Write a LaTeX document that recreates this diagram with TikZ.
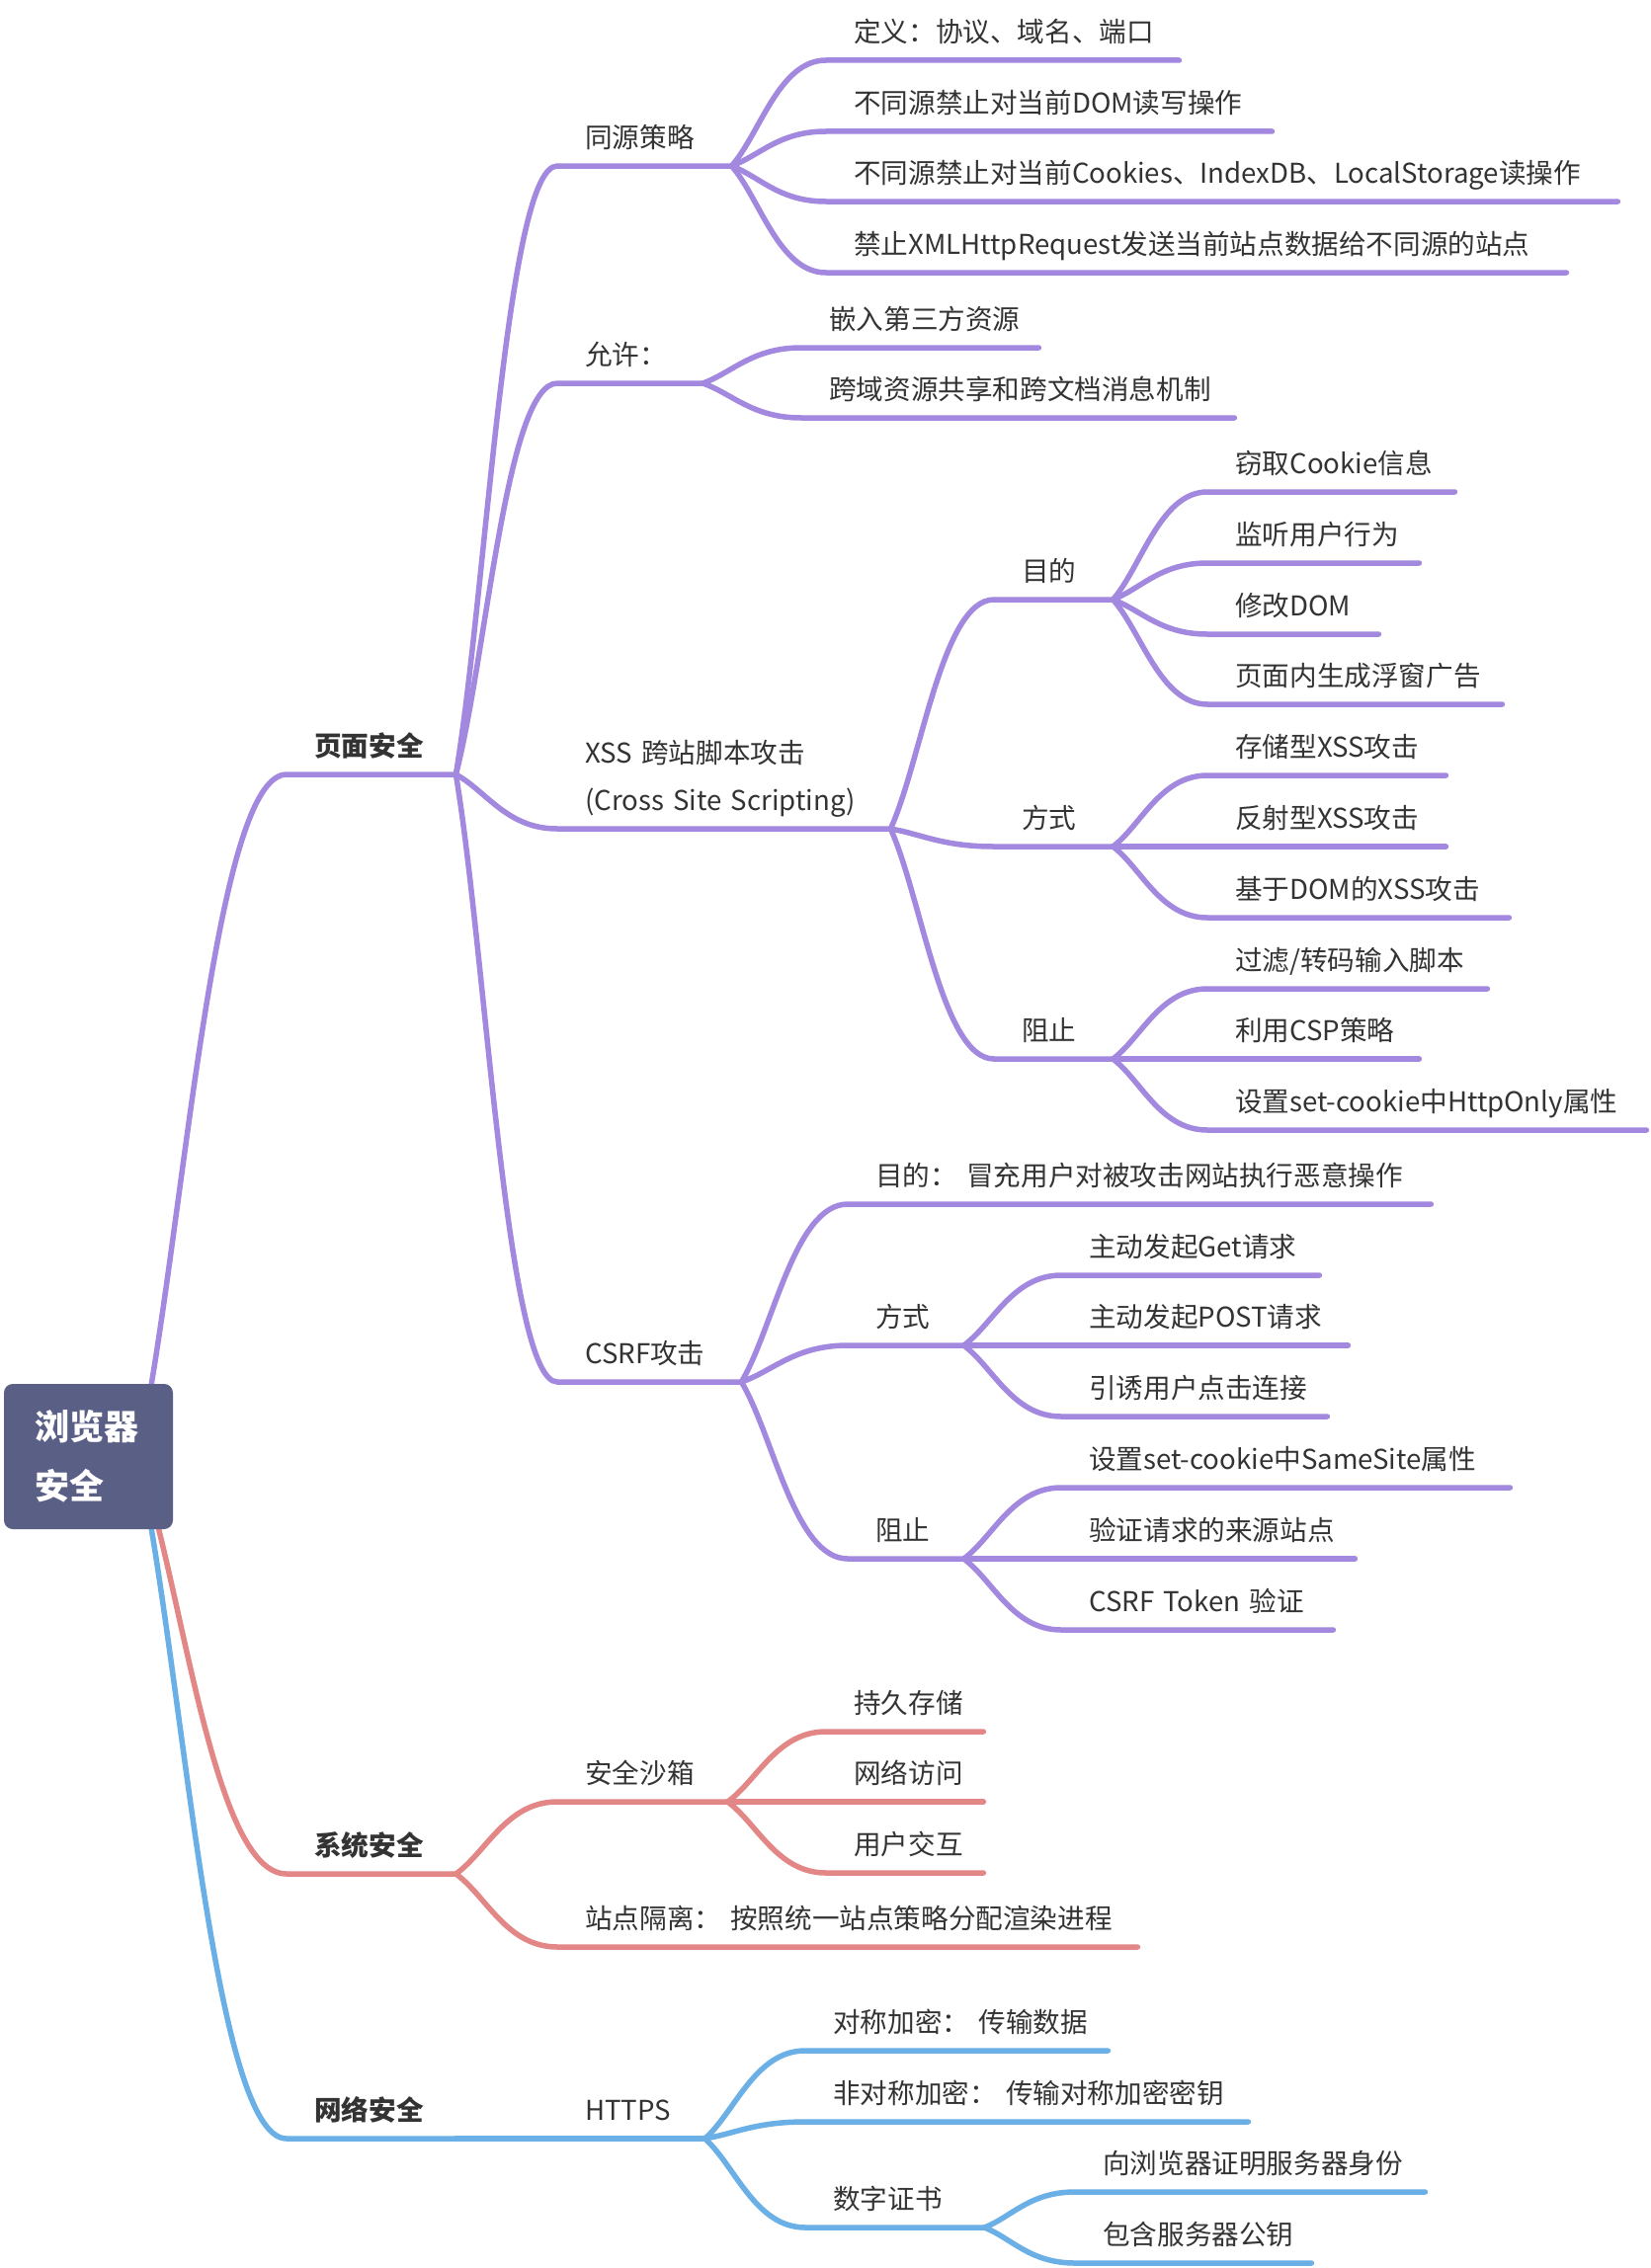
\documentclass[tikz,border=0pt]{standalone}
\usepackage{fontspec}
\setmainfont{Noto Sans CJK SC}
\usetikzlibrary{calc,backgrounds}

\definecolor{lilac}{HTML}{A288DE}
\definecolor{rose}{HTML}{E28686}
\definecolor{sky}{HTML}{6AAFE6}
\definecolor{slate}{HTML}{5A5F86}
\definecolor{ink}{HTML}{333333}

\tikzset{
  topic/.style={anchor=south west, inner xsep=0pt, inner ysep=10pt,
    text height=22pt, text depth=8pt, text width=#1, align=left, text=ink,
    execute at begin node={\hspace*{28pt}}},
  maintopic/.style={topic=#1, font=\fontsize{27.6pt}{33pt}\selectfont\bfseries},
  rootbox/.style={fill=slate, rounded corners=9pt, minimum width=171pt,
    minimum height=147pt, text width=108pt, inner sep=0pt, align=left,
    text=white, font=\fontsize{35pt}{60pt}\selectfont\bfseries},
  branch/.style={to path={let \p1=(\tikztostart), \p2=(\tikztotarget) in
    .. controls ({\x1+0.3*(\x2-\x1)},{\y1+0.3*(\y2-\y1)}) and ({\x2-0.5*(\x2-\x1)},\y2) .. (\tikztotarget)}},
  lilacline/.style={draw=lilac, line width=5.5pt, line cap=round},
  roseline/.style={draw=rose, line width=5.5pt, line cap=round},
  skyline/.style={draw=sky, line width=5.5pt, line cap=round}
}

\begin{document}
\begin{tikzpicture}[x=1pt, y=-1pt, font=\fontsize{27.6pt}{33pt}\selectfont]
  \useasboundingbox (0,0) rectangle (1670,2296);

  % Root
  \node[rootbox] (root) at (89.5,1474.5) {浏览器\\安全};

  % Main topics
  \node[maintopic=171] (page) at (290,784) {页面安全};
  \node[maintopic=171] (sys) at (290,1897) {系统安全};
  \node[maintopic=171] (net) at (290,2165) {网络安全};

  % Page security
  \node[topic=176] (same) at (564,168) {同源策略};
  \node[topic=147] (allow) at (564,388) {允许：};
  \node[topic=337] (xss) at (564,839) {\begin{tabular}[b]{@{}l@{}}XSS~跨站脚本攻击\\[15pt](Cross~Site~Scripting)\end{tabular}};
  \node[topic=186] (csrf) at (564,1399) {CSRF攻击};

  % Same origin policy
  \node[topic=357] (origin) at (836,61) {定义：协议、域名、端口};
  \node[topic=451] (domrw) at (836,133) {不同源禁止对当前DOM读写操作};
  \node[topic=801] (store) at (836,204) {不同源禁止对当前Cookies、IndexDB、LocalStorage读操作};
  \node[topic=749] (xhr) at (836,276) {禁止XMLHttpRequest发送当前站点数据给不同源的站点};

  % Allowed
  \node[topic=240] (embed) at (811,352) {嵌入第三方资源};
  \node[topic=438] (cors) at (811,423) {跨域资源共享和跨文档消息机制};

  % XSS
  \node[topic=120] (xaim) at (1006,607) {目的};
  \node[topic=120] (xway) at (1006,857) {方式};
  \node[topic=120] (xstop) at (1006,1072) {阻止};
  \node[topic=250] (steal) at (1222,498) {窃取Cookie信息};
  \node[topic=214] (listen) at (1222,570) {监听用户行为};
  \node[topic=173] (moddom) at (1222,642) {修改DOM};
  \node[topic=298] (popup) at (1222,713) {页面内生成浮窗广告};
  \node[topic=241] (stored) at (1222,785) {存储型XSS攻击};
  \node[topic=241] (reflect) at (1222,857) {反射型XSS攻击};
  \node[topic=305] (domxss) at (1222,929) {基于DOM的XSS攻击};
  \node[topic=283] (filter) at (1222,1001) {过滤/转码输入脚本};
  \node[topic=214] (csp) at (1222,1072) {利用CSP策略};
  \node[topic=444] (httponly) at (1222,1144) {设置set-cookie中HttpOnly属性};

  % CSRF
  \node[topic=590] (caim) at (858,1219) {目的：~冒充用户对被攻击网站执行恶意操作};
  \node[topic=117] (cway) at (858,1362) {方式};
  \node[topic=117] (cstop) at (858,1578) {阻止};
  \node[topic=261] (get) at (1074,1291) {主动发起Get请求};
  \node[topic=290] (post) at (1074,1362) {主动发起POST请求};
  \node[topic=269] (lure) at (1074,1434) {引诱用户点击连接};
  \node[topic=454] (samesite) at (1074,1506) {设置set-cookie中SameSite属性};
  \node[topic=297] (source) at (1074,1578) {验证请求的来源站点};
  \node[topic=275] (token) at (1074,1650) {CSRF~Token~验证};

  % System security
  \node[topic=172] (sandbox) at (564,1824) {安全沙箱};
  \node[topic=587] (isolate) at (564,1971) {站点隔离：~按照统一站点策略分配渲染进程};
  \node[topic=159] (disk) at (836,1753) {持久存储};
  \node[topic=159] (netacc) at (836,1824) {网络访问};
  \node[topic=159] (input) at (836,1896) {用户交互};

  % Network security
  \node[topic=149] (https) at (564,2165) {HTTPS};
  \node[topic=306] (sym) at (815,2076) {对称加密：~传输数据};
  \node[topic=448] (asym) at (815,2148) {非对称加密：~传输对称加密密钥};
  \node[topic=181] (cert) at (815,2255) {数字证书};
  \node[topic=354] (prove) at (1088,2219) {向浏览器证明服务器身份};
  \node[topic=239] (pubkey) at (1088,2291) {包含服务器公钥};

  % Page security branches
  \draw[lilacline] (page.south east) to[branch] (same.south west) -- (same.south east);
  \draw[lilacline] (page.south east) to[branch] (allow.south west) -- (allow.south east);
  \draw[lilacline] (page.south east) to[branch] (xss.south west) -- (xss.south east);
  \draw[lilacline] (page.south east) to[branch] (csrf.south west) -- (csrf.south east);
  \draw[lilacline] (same.south east) to[branch] (origin.south west) -- (origin.south east);
  \draw[lilacline] (same.south east) to[branch] (domrw.south west) -- (domrw.south east);
  \draw[lilacline] (same.south east) to[branch] (store.south west) -- (store.south east);
  \draw[lilacline] (same.south east) to[branch] (xhr.south west) -- (xhr.south east);
  \draw[lilacline] (allow.south east) to[branch] (embed.south west) -- (embed.south east);
  \draw[lilacline] (allow.south east) to[branch] (cors.south west) -- (cors.south east);
  \draw[lilacline] (xss.south east) to[branch] (xaim.south west) -- (xaim.south east);
  \draw[lilacline] (xss.south east) to[branch] (xway.south west) -- (xway.south east);
  \draw[lilacline] (xss.south east) to[branch] (xstop.south west) -- (xstop.south east);
  \draw[lilacline] (xaim.south east) to[branch] (steal.south west) -- (steal.south east);
  \draw[lilacline] (xaim.south east) to[branch] (listen.south west) -- (listen.south east);
  \draw[lilacline] (xaim.south east) to[branch] (moddom.south west) -- (moddom.south east);
  \draw[lilacline] (xaim.south east) to[branch] (popup.south west) -- (popup.south east);
  \draw[lilacline] (xway.south east) to[branch] (stored.south west) -- (stored.south east);
  \draw[lilacline] (xway.south east) to[branch] (reflect.south west) -- (reflect.south east);
  \draw[lilacline] (xway.south east) to[branch] (domxss.south west) -- (domxss.south east);
  \draw[lilacline] (xstop.south east) to[branch] (filter.south west) -- (filter.south east);
  \draw[lilacline] (xstop.south east) to[branch] (csp.south west) -- (csp.south east);
  \draw[lilacline] (xstop.south east) to[branch] (httponly.south west) -- (httponly.south east);
  \draw[lilacline] (csrf.south east) to[branch] (caim.south west) -- (caim.south east);
  \draw[lilacline] (csrf.south east) to[branch] (cway.south west) -- (cway.south east);
  \draw[lilacline] (csrf.south east) to[branch] (cstop.south west) -- (cstop.south east);
  \draw[lilacline] (cway.south east) to[branch] (get.south west) -- (get.south east);
  \draw[lilacline] (cway.south east) to[branch] (post.south west) -- (post.south east);
  \draw[lilacline] (cway.south east) to[branch] (lure.south west) -- (lure.south east);
  \draw[lilacline] (cstop.south east) to[branch] (samesite.south west) -- (samesite.south east);
  \draw[lilacline] (cstop.south east) to[branch] (source.south west) -- (source.south east);
  \draw[lilacline] (cstop.south east) to[branch] (token.south west) -- (token.south east);

  % System security branches
  \draw[roseline] (sys.south east) to[branch] (sandbox.south west) -- (sandbox.south east);
  \draw[roseline] (sys.south east) to[branch] (isolate.south west) -- (isolate.south east);
  \draw[roseline] (sandbox.south east) to[branch] (disk.south west) -- (disk.south east);
  \draw[roseline] (sandbox.south east) to[branch] (netacc.south west) -- (netacc.south east);
  \draw[roseline] (sandbox.south east) to[branch] (input.south west) -- (input.south east);

  % Network security branches
  \draw[skyline] (net.south east) to[branch] (https.south west) -- (https.south east);
  \draw[skyline] (https.south east) to[branch] (sym.south west) -- (sym.south east);
  \draw[skyline] (https.south east) to[branch] (asym.south west) -- (asym.south east);
  \draw[skyline] (https.south east) to[branch] (cert.south west) -- (cert.south east);
  \draw[skyline] (cert.south east) to[branch] (prove.south west) -- (prove.south east);
  \draw[skyline] (cert.south east) to[branch] (pubkey.south west) -- (pubkey.south east);

  % Root branches go behind the root box
  \begin{scope}[on background layer]
    \fill[white] (0,0) rectangle (1670,2296);
    \draw[lilacline] ([xshift=50pt]root.center) to[branch] (page.south west) -- (page.south east);
    \draw[roseline] ([xshift=50pt]root.center) to[branch] (sys.south west) -- (sys.south east);
    \draw[skyline] ([xshift=50pt]root.center) to[branch] (net.south west) -- (net.south east);
  \end{scope}
\end{tikzpicture}
\end{document}
